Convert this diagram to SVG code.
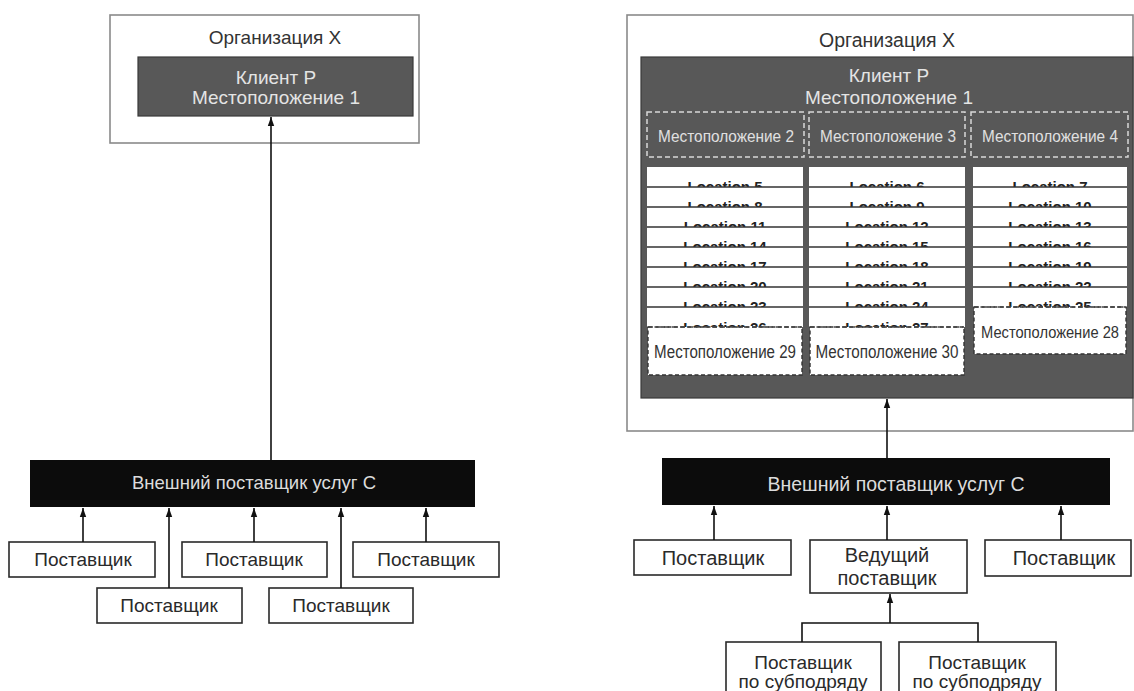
<svg xmlns="http://www.w3.org/2000/svg" width="1134" height="691" viewBox="0 0 1134 691">
<defs>
<marker id="arr" markerUnits="userSpaceOnUse" markerWidth="10" markerHeight="8" refX="9" refY="4" orient="auto">
<path d="M0,0.8 L9,4 L0,7.2 z" fill="#111"/>
</marker>
<style>
text{font-family:"Liberation Sans",Arial,sans-serif;text-anchor:middle}
.org{fill:#fff;stroke:#8a8a8a;stroke-width:1.6}
.orgt{font-size:19px;fill:#333}
.client{fill:#585858;stroke:#3a3a3a;stroke-width:1.2}
.ct{font-size:19px;fill:#e4e4e4}
.bar{fill:#0c0c0c}
.bt{font-size:18.5px;fill:#dcdcdc}
.sup{fill:#fff;stroke:#2a2a2a;stroke-width:1.6}
.st{font-size:19px;fill:#2a2a2a}
.dl{fill:none;stroke:#d8d8d8;stroke-width:1.5;stroke-dasharray:5 3}
.dlt{font-size:16px;fill:#e0e0e0}
.row{fill:#fff}
.lt{font-size:15px;fill:#222;font-weight:bold}
.rl{stroke:#333;stroke-width:1.4}
.rld{stroke:#444;stroke-width:1.4;stroke-dasharray:5 3}
.low{fill:#fff;stroke:#333;stroke-width:1.4;stroke-dasharray:4 2.5}
.lowt{font-size:18px;fill:#333}
.con{fill:none;stroke:#111;stroke-width:1.6}
</style>
</defs>
<rect width="1134" height="691" fill="#fff"/>

<!-- LEFT -->
<g id="org-left">
<rect class="org" x="110" y="15" width="309" height="128"/>
<text class="orgt" x="275" y="37" dy=".35em">Организация X</text>
</g>
<g id="client-left">
<rect class="client" x="138" y="57" width="275" height="59"/>
<text class="ct" x="276" y="77" dy=".35em">Клиент P</text>
<text class="ct" x="276" y="97" dy=".35em">Местоположение 1</text>
</g>
<g id="provider-left">
<rect class="bar" x="30" y="460" width="445" height="47"/>
<text class="bt" x="254" y="483" dy=".35em">Внешний поставщик услуг C</text>
</g>
<g id="sup-l1"><rect class="sup" x="9" y="542" width="146" height="35"/><text class="st" x="83" y="559" dy=".35em">Поставщик</text></g>
<g id="sup-l2"><rect class="sup" x="97" y="588" width="145" height="35"/><text class="st" x="169" y="605" dy=".35em">Поставщик</text></g>
<g id="sup-l3"><rect class="sup" x="182" y="542" width="145" height="35"/><text class="st" x="254" y="559" dy=".35em">Поставщик</text></g>
<g id="sup-l4"><rect class="sup" x="269" y="588" width="144" height="35"/><text class="st" x="341" y="605" dy=".35em">Поставщик</text></g>
<g id="sup-l5"><rect class="sup" x="353" y="542" width="146" height="35"/><text class="st" x="426" y="559" dy=".35em">Поставщик</text></g>

<!-- RIGHT -->
<g id="org-right">
<rect class="org" x="627" y="15" width="506" height="416"/>
<text class="orgt" x="887" y="40" dy=".35em" style="font-size:19.5px">Организация X</text>
</g>
<g id="client-right">
<rect class="client" x="641" y="57" width="492" height="341"/>
<text class="ct" x="889" y="75" dy=".35em">Клиент P</text>
<text class="ct" x="889" y="97" dy=".35em">Местоположение 1</text>
</g>
<g id="loc2"><rect class="dl" x="647" y="112" width="157" height="45"/><text class="dlt" x="726" y="136" dy=".35em" textLength="136" lengthAdjust="spacingAndGlyphs">Местоположение 2</text></g>
<g id="loc3"><rect class="dl" x="809" y="112" width="156" height="45"/><text class="dlt" x="888" y="136" dy=".35em" textLength="136" lengthAdjust="spacingAndGlyphs">Местоположение 3</text></g>
<g id="loc4"><rect class="dl" x="971" y="112" width="157" height="45"/><text class="dlt" x="1050" y="136" dy=".35em" textLength="136" lengthAdjust="spacingAndGlyphs">Местоположение 4</text></g>

<g id="col1">
<rect class="row" x="647" y="167" width="156" height="20"/><text class="lt" x="725" y="192">Location 5</text>
<rect class="row" x="647" y="187" width="156" height="20"/><text class="lt" x="725" y="212">Location 8</text>
<rect class="row" x="647" y="207" width="156" height="20"/><text class="lt" x="725" y="232">Location 11</text>
<rect class="row" x="647" y="227" width="156" height="20"/><text class="lt" x="725" y="252">Location 14</text>
<rect class="row" x="647" y="247" width="156" height="20"/><text class="lt" x="725" y="272">Location 17</text>
<rect class="row" x="647" y="267" width="156" height="20"/><text class="lt" x="725" y="292">Location 20</text>
<rect class="row" x="647" y="287" width="156" height="20"/><text class="lt" x="725" y="312">Location 23</text>
<rect class="row" x="647" y="307" width="156" height="20"/><text class="lt" x="725" y="333">Location 26</text>
<rect class="low" x="648" y="327" width="154" height="48"/>
<text class="lowt" x="725" y="352" dy=".35em" textLength="142" lengthAdjust="spacingAndGlyphs">Местоположение 29</text>
<path class="rl" d="M647,187H803M647,207H803M647,227H803M647,247H803M647,267H803M647,287H803M647,307H803"/>
<path class="rld" d="M648,327H802"/>
</g>
<g id="col2">
<rect class="row" x="809" y="167" width="156" height="20"/><text class="lt" x="887" y="192">Location 6</text>
<rect class="row" x="809" y="187" width="156" height="20"/><text class="lt" x="887" y="212">Location 9</text>
<rect class="row" x="809" y="207" width="156" height="20"/><text class="lt" x="887" y="232">Location 12</text>
<rect class="row" x="809" y="227" width="156" height="20"/><text class="lt" x="887" y="252">Location 15</text>
<rect class="row" x="809" y="247" width="156" height="20"/><text class="lt" x="887" y="272">Location 18</text>
<rect class="row" x="809" y="267" width="156" height="20"/><text class="lt" x="887" y="292">Location 21</text>
<rect class="row" x="809" y="287" width="156" height="20"/><text class="lt" x="887" y="312">Location 24</text>
<rect class="row" x="809" y="307" width="156" height="20"/><text class="lt" x="887" y="333">Location 27</text>
<rect class="low" x="810" y="327" width="154" height="48"/>
<text class="lowt" x="887" y="352" dy=".35em" textLength="143" lengthAdjust="spacingAndGlyphs">Местоположение 30</text>
<path class="rl" d="M809,187H965M809,207H965M809,227H965M809,247H965M809,267H965M809,287H965M809,307H965"/>
<path class="rld" d="M810,327H964"/>
</g>
<g id="col3">
<rect class="row" x="973" y="167" width="154" height="20"/><text class="lt" x="1050" y="192">Location 7</text>
<rect class="row" x="973" y="187" width="154" height="20"/><text class="lt" x="1050" y="212">Location 10</text>
<rect class="row" x="973" y="207" width="154" height="20"/><text class="lt" x="1050" y="232">Location 13</text>
<rect class="row" x="973" y="227" width="154" height="20"/><text class="lt" x="1050" y="252">Location 16</text>
<rect class="row" x="973" y="247" width="154" height="20"/><text class="lt" x="1050" y="272">Location 19</text>
<rect class="row" x="973" y="267" width="154" height="20"/><text class="lt" x="1050" y="292">Location 22</text>
<rect class="row" x="973" y="287" width="154" height="20"/><text class="lt" x="1050" y="312">Location 25</text>
<rect class="low" x="974" y="307" width="152" height="47"/>
<text class="lowt" x="1050" y="332" dy=".35em" textLength="138" lengthAdjust="spacingAndGlyphs" style="font-size:17px">Местоположение 28</text>
<path class="rl" d="M973,187H1127M973,207H1127M973,227H1127M973,247H1127M973,267H1127M973,287H1127"/>
<path class="rld" d="M974,307H1126"/>
</g>

<g id="provider-right">
<rect class="bar" x="662" y="458" width="448" height="47"/>
<text class="bt" x="896" y="484" dy=".35em" style="font-size:19.5px">Внешний поставщик услуг C</text>
</g>
<g id="sup-r1"><rect class="sup" x="634" y="540" width="157" height="35"/><text class="st" x="713" y="558" dy=".35em" style="font-size:20px">Поставщик</text></g>
<g id="sup-lead"><rect class="sup" x="810" y="540" width="157" height="53"/><text class="st" x="887" y="555" dy=".35em" style="font-size:20px">Ведущий</text><text class="st" x="887" y="578" dy=".35em" style="font-size:20px">поставщик</text></g>
<g id="sup-r2"><rect class="sup" x="985" y="540" width="146" height="36"/><text class="st" x="1064" y="558" dy=".35em" style="font-size:20px">Поставщик</text></g>
<g id="sub1"><rect class="sup" x="726" y="642" width="155" height="60"/><text class="st" x="803" y="662" dy=".35em" style="font-size:19px">Поставщик</text><text class="st" x="803" y="681" dy=".35em" style="font-size:19px">по субподряду</text></g>
<g id="sub2"><rect class="sup" x="899" y="642" width="157" height="60"/><text class="st" x="977" y="662" dy=".35em" style="font-size:19px">Поставщик</text><text class="st" x="977" y="681" dy=".35em" style="font-size:19px">по субподряду</text></g>

<g id="connectors">
<line class="con" x1="271" y1="460" x2="271" y2="117" marker-end="url(#arr)"/>
<line class="con" x1="83" y1="542" x2="83" y2="508" marker-end="url(#arr)"/>
<line class="con" x1="169" y1="588" x2="169" y2="508" marker-end="url(#arr)"/>
<line class="con" x1="254" y1="542" x2="254" y2="508" marker-end="url(#arr)"/>
<line class="con" x1="341" y1="588" x2="341" y2="508" marker-end="url(#arr)"/>
<line class="con" x1="426" y1="542" x2="426" y2="508" marker-end="url(#arr)"/>
<line class="con" x1="887" y1="458" x2="887" y2="399" marker-end="url(#arr)"/>
<line class="con" x1="714" y1="540" x2="714" y2="506" marker-end="url(#arr)"/>
<line class="con" x1="887" y1="540" x2="887" y2="506" marker-end="url(#arr)"/>
<line class="con" x1="1061" y1="540" x2="1061" y2="506" marker-end="url(#arr)"/>
<line class="con" x1="890" y1="623" x2="890" y2="594" marker-end="url(#arr)"/>
<polyline class="con" points="802,642 802,623 978,623 978,642"/>
</g>
</svg>
